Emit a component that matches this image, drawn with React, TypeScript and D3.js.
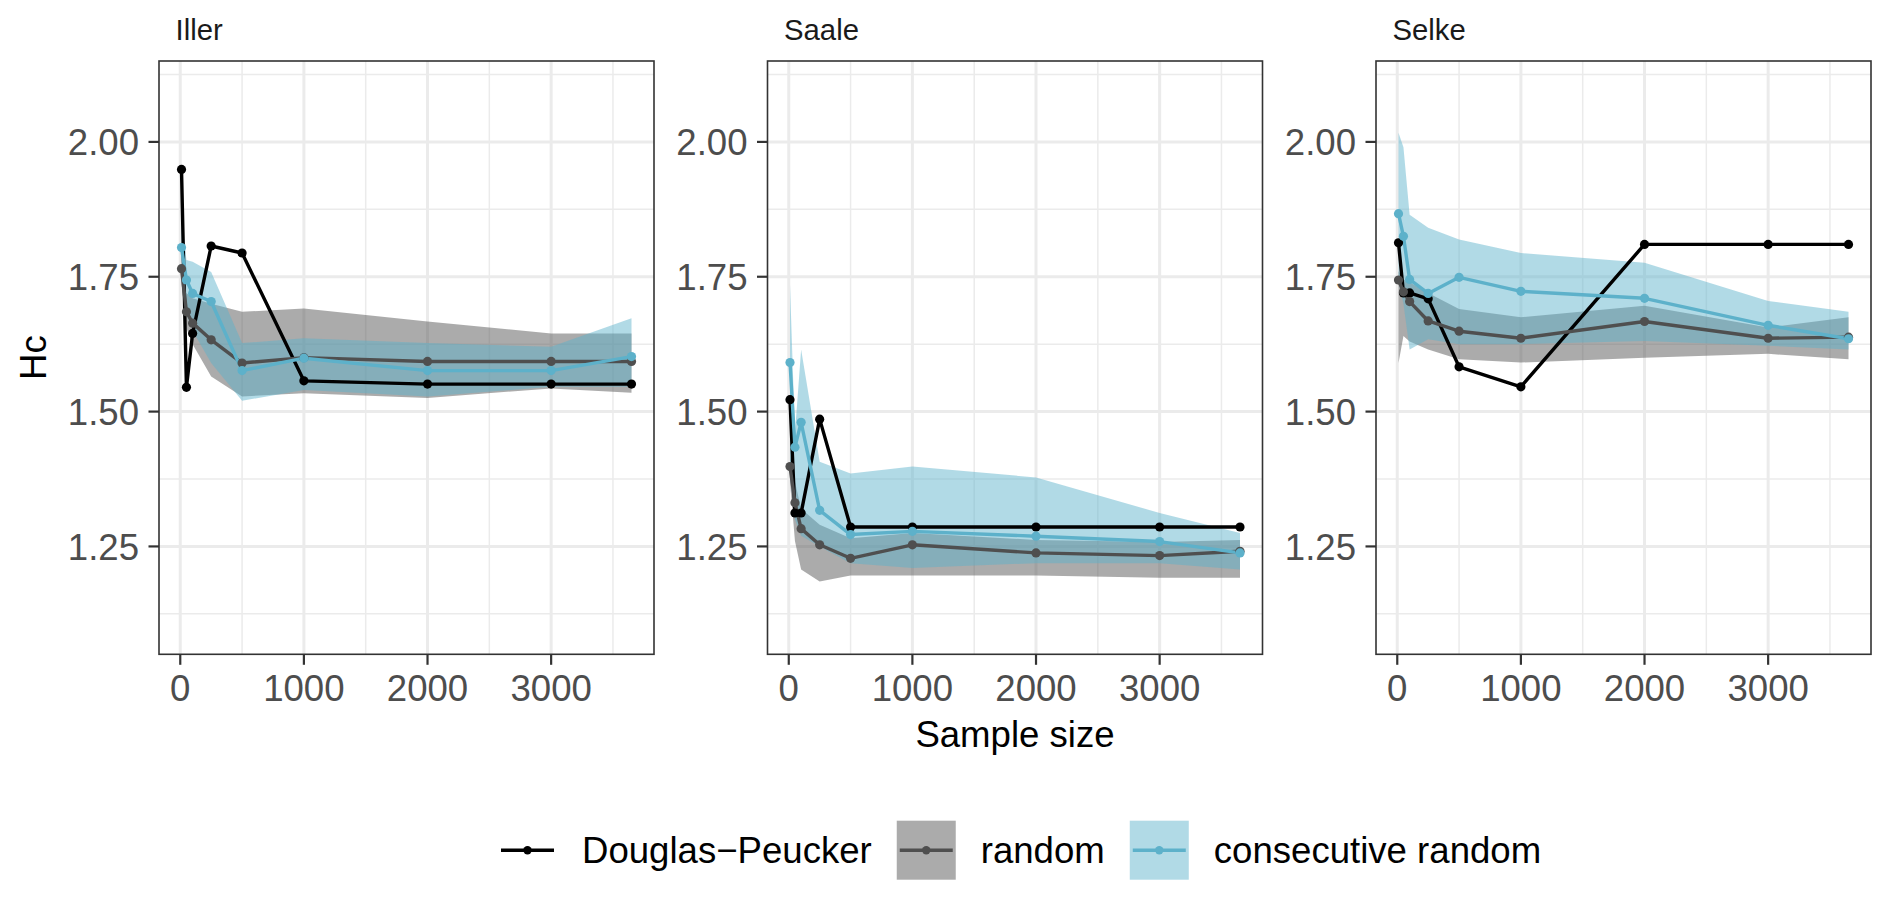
import React, { useLayoutEffect, useRef } from 'react';
import * as d3 from 'd3';

// ---- data ----
const rivers = ['Iller', 'Saale', 'Selke'];
const sampleSizes = [10, 50, 100, 250, 500, 1000, 2000, 3000, 3650];
const methodLabels = ['Douglas\u2212Peucker', 'random', 'consecutive random'];
const yLimits = [1.1, 2.1];
const xTicks = [0, 1000, 2000, 3000];
const xMinor = [500, 1500, 2500, 3500];
const yTicks = [1.25, 1.5, 1.75, 2.0];
const yMinor = [1.125, 1.375, 1.625, 1.875, 2.125];

const dpIller = [1.949, 1.545, 1.645, 1.807, 1.794, 1.557, 1.551, 1.551, 1.551];
const randIller = [1.765, 1.685, 1.664, 1.633, 1.59, 1.6, 1.593, 1.593, 1.593];
const randLoIller = [1.735, 1.655, 1.625, 1.565, 1.528, 1.534, 1.525, 1.543, 1.535];
const randHiIller = [1.79, 1.72, 1.71, 1.7, 1.685, 1.691, 1.667, 1.645, 1.645];
const consIller = [1.804, 1.744, 1.719, 1.704, 1.576, 1.599, 1.576, 1.576, 1.602];
const consLoIller = [1.74, 1.68, 1.65, 1.59, 1.52, 1.54, 1.528, 1.546, 1.546];
const consHiIller = [1.864, 1.781, 1.778, 1.759, 1.627, 1.636, 1.627, 1.62, 1.673];

const dpSaale = [1.522, 1.312, 1.312, 1.486, 1.286, 1.286, 1.286, 1.286, 1.286];
const randSaale = [1.398, 1.331, 1.283, 1.253, 1.228, 1.253, 1.238, 1.233, 1.241];
const randLoSaale = [1.37, 1.26, 1.207, 1.185, 1.196, 1.196, 1.196, 1.192, 1.192];
const randHiSaale = [1.42, 1.37, 1.32, 1.29, 1.265, 1.275, 1.262, 1.258, 1.262];
const consSaale = [1.591, 1.434, 1.48, 1.317, 1.272, 1.278, 1.269, 1.259, 1.238];
const consLoSaale = [1.38, 1.3, 1.27, 1.25, 1.219, 1.21, 1.219, 1.219, 1.207];
const consHiSaale = [1.735, 1.46, 1.615, 1.407, 1.385, 1.398, 1.378, 1.312, 1.275];

const dpSelke = [1.813, 1.72, 1.72, 1.709, 1.583, 1.546, 1.81, 1.81, 1.81];
const randSelke = [1.744, 1.722, 1.704, 1.668, 1.649, 1.636, 1.667, 1.636, 1.638];
const randLoSelke = [1.59, 1.64, 1.63, 1.615, 1.597, 1.591, 1.6, 1.607, 1.597];
const randHiSelke = [1.76, 1.745, 1.74, 1.72, 1.69, 1.675, 1.696, 1.656, 1.675];
const consSelke = [1.867, 1.825, 1.745, 1.719, 1.749, 1.723, 1.71, 1.66, 1.635];
const consLoSelke = [1.74, 1.7, 1.615, 1.634, 1.625, 1.625, 1.631, 1.622, 1.615];
const consHiSelke = [2.017, 1.99, 1.865, 1.841, 1.819, 1.794, 1.776, 1.705, 1.685];

type Datum = { n: number; y: number; lo?: number; hi?: number };
type Series = { method: number; points: Datum[] };

const zip = (ys: number[], lo?: number[], hi?: number[]): Datum[] =>
  sampleSizes.map((n, i) => ({ n, y: ys[i], lo: lo ? lo[i] : undefined, hi: hi ? hi[i] : undefined }));

const panels: Series[][] = [
  [
    { method: 0, points: zip(dpIller) },
    { method: 1, points: zip(randIller, randLoIller, randHiIller) },
    { method: 2, points: zip(consIller, consLoIller, consHiIller) },
  ],
  [
    { method: 0, points: zip(dpSaale) },
    { method: 1, points: zip(randSaale, randLoSaale, randHiSaale) },
    { method: 2, points: zip(consSaale, consLoSaale, consHiSaale) },
  ],
  [
    { method: 0, points: zip(dpSelke) },
    { method: 1, points: zip(randSelke, randLoSelke, randHiSelke) },
    { method: 2, points: zip(consSelke, consLoSelke, consHiSelke) },
  ],
];

const colors = ['#000000', '#4f4f4f', '#5db1ca'];
const FONT = '"Liberation Sans", Arial, Helvetica, sans-serif';

const width = 1892;
const height = 900;
const margin = { top: 61, left: 159, bottom: 654.3 };
const panelW = 495;
const panelGap = 113.5;

const draw = (el: SVGSVGElement) => {
  const svg = d3.select(el);
  svg.selectAll('*').remove();

  const [n0, n1] = d3.extent(sampleSizes) as [number, number];
  const xPad = (n1 - n0) * 0.05;
  const yPad = (yLimits[1] - yLimits[0]) * 0.05;

  const y = d3
    .scaleLinear()
    .domain([yLimits[0] - yPad, yLimits[1] + yPad])
    .range([margin.bottom, margin.top]);

  rivers.forEach((river, p) => {
    const left = margin.left + p * (panelW + panelGap);
    const x = d3
      .scaleLinear()
      .domain([n0 - xPad, n1 + xPad])
      .range([left, left + panelW]);

    const g = svg.append('g').classed('panel', true);

    // grid
    g.selectAll('.xminor').data(xMinor).join('line')
      .attr('x1', (d) => x(d)).attr('x2', (d) => x(d))
      .attr('y1', margin.top).attr('y2', margin.bottom)
      .attr('stroke', '#ebebeb').attr('stroke-width', 1.5);
    g.selectAll('.yminor').data(yMinor).join('line')
      .attr('x1', left).attr('x2', left + panelW)
      .attr('y1', (d) => y(d)).attr('y2', (d) => y(d))
      .attr('stroke', '#ebebeb').attr('stroke-width', 1.5);
    g.append('g').selectAll('line').data(xTicks).join('line')
      .attr('x1', (d) => x(d)).attr('x2', (d) => x(d))
      .attr('y1', margin.top).attr('y2', margin.bottom)
      .attr('stroke', '#ebebeb').attr('stroke-width', 3);
    g.append('g').selectAll('line').data(yTicks).join('line')
      .attr('x1', left).attr('x2', left + panelW)
      .attr('y1', (d) => y(d)).attr('y2', (d) => y(d))
      .attr('stroke', '#ebebeb').attr('stroke-width', 3);

    const series = panels[p];

    // ribbons
    const area = d3
      .area<Datum>()
      .x((d) => x(d.n))
      .y0((d) => y(d.lo as number))
      .y1((d) => y(d.hi as number));
    series
      .filter((s) => s.points[0].lo !== undefined)
      .forEach((s) => {
        g.append('path')
          .attr('d', area(s.points))
          .attr('fill', colors[s.method])
          .attr('fill-opacity', 0.48);
      });

    // lines
    const line = d3
      .line<Datum>()
      .x((d) => x(d.n))
      .y((d) => y(d.y));
    series.forEach((s) => {
      g.append('path')
        .attr('d', line(s.points))
        .attr('fill', 'none')
        .attr('stroke', colors[s.method])
        .attr('stroke-width', 3.4)
        .attr('stroke-linejoin', 'round');
    });
    series.forEach((s) => {
      g.append('g').selectAll('circle').data(s.points).join('circle')
        .attr('cx', (d) => x(d.n))
        .attr('cy', (d) => y(d.y))
        .attr('r', 4.6)
        .attr('fill', colors[s.method]);
    });

    // border
    g.append('rect')
      .attr('x', left).attr('y', margin.top)
      .attr('width', panelW).attr('height', margin.bottom - margin.top)
      .attr('fill', 'none').attr('stroke', '#333333').attr('stroke-width', 1.6);

    // strip title
    g.append('text')
      .attr('x', left + 16.5).attr('y', 40)
      .attr('font-family', FONT).attr('font-size', 29.3).attr('fill', '#1a1a1a')
      .text(river);

    // y axis
    const yAx = g.append('g');
    yAx.selectAll('line').data(yTicks).join('line')
      .attr('x1', left - 10.5).attr('x2', left)
      .attr('y1', (d) => y(d)).attr('y2', (d) => y(d))
      .attr('stroke', '#333333').attr('stroke-width', 2.2);
    yAx.selectAll('text').data(yTicks).join('text')
      .attr('x', left - 20).attr('y', (d) => y(d))
      .attr('dy', '0.36em')
      .attr('text-anchor', 'end')
      .attr('font-family', FONT).attr('font-size', 36.6).attr('fill', '#4d4d4d')
      .text((d) => d3.format('.2f')(d));

    // x axis
    const xAx = g.append('g');
    xAx.selectAll('line').data(xTicks).join('line')
      .attr('x1', (d) => x(d)).attr('x2', (d) => x(d))
      .attr('y1', margin.bottom).attr('y2', margin.bottom + 10.5)
      .attr('stroke', '#333333').attr('stroke-width', 2.2);
    xAx.selectAll('text').data(xTicks).join('text')
      .attr('x', (d) => x(d)).attr('y', 700.7)
      .attr('text-anchor', 'middle')
      .attr('font-family', FONT).attr('font-size', 36.6).attr('fill', '#4d4d4d')
      .text((d) => String(d));
  });

  // axis titles
  const midPanel = margin.left + panelW + panelGap + panelW / 2;
  svg.append('text')
    .attr('x', midPanel).attr('y', 746.7)
    .attr('text-anchor', 'middle')
    .attr('font-family', FONT).attr('font-size', 36.6).attr('fill', '#000')
    .text('Sample size');
  svg.append('text')
    .attr('transform', `translate(46, ${(margin.top + margin.bottom) / 2}) rotate(-90)`)
    .attr('text-anchor', 'middle')
    .attr('font-family', FONT).attr('font-size', 36.6).attr('fill', '#000')
    .text('Hc');

  // legend
  const key = 59;
  const legY = 820.7;
  let cx = 498;
  const leg = svg.append('g');
  methodLabels.forEach((label, m) => {
    if (m > 0) {
      leg.append('rect')
        .attr('x', cx).attr('y', legY).attr('width', key).attr('height', key)
        .attr('fill', colors[m]).attr('fill-opacity', 0.48);
    }
    leg.append('line')
      .attr('x1', cx + 3).attr('x2', cx + key - 3)
      .attr('y1', legY + key / 2).attr('y2', legY + key / 2)
      .attr('stroke', colors[m]).attr('stroke-width', 3.4);
    leg.append('circle')
      .attr('cx', cx + key / 2).attr('cy', legY + key / 2).attr('r', 4.2)
      .attr('fill', colors[m]);
    const t = leg.append('text')
      .attr('x', cx + key + 25).attr('y', 863.3)
      .attr('font-family', FONT).attr('font-size', 36.6).attr('fill', '#000')
      .text(label);
    const tw = (t.node() as SVGTextElement).getComputedTextLength();
    cx = cx + key + 25 + tw + 25;
  });
};

export default function App() {
  const ref = useRef<SVGSVGElement>(null);

  useLayoutEffect(() => {
    if (ref.current) draw(ref.current);
  }, []);

  return (
    <svg
      ref={ref}
      width={width}
      height={height}
      style={{ position: 'absolute', left: 0, top: 0, background: '#fff' }}
    />
  );
}
